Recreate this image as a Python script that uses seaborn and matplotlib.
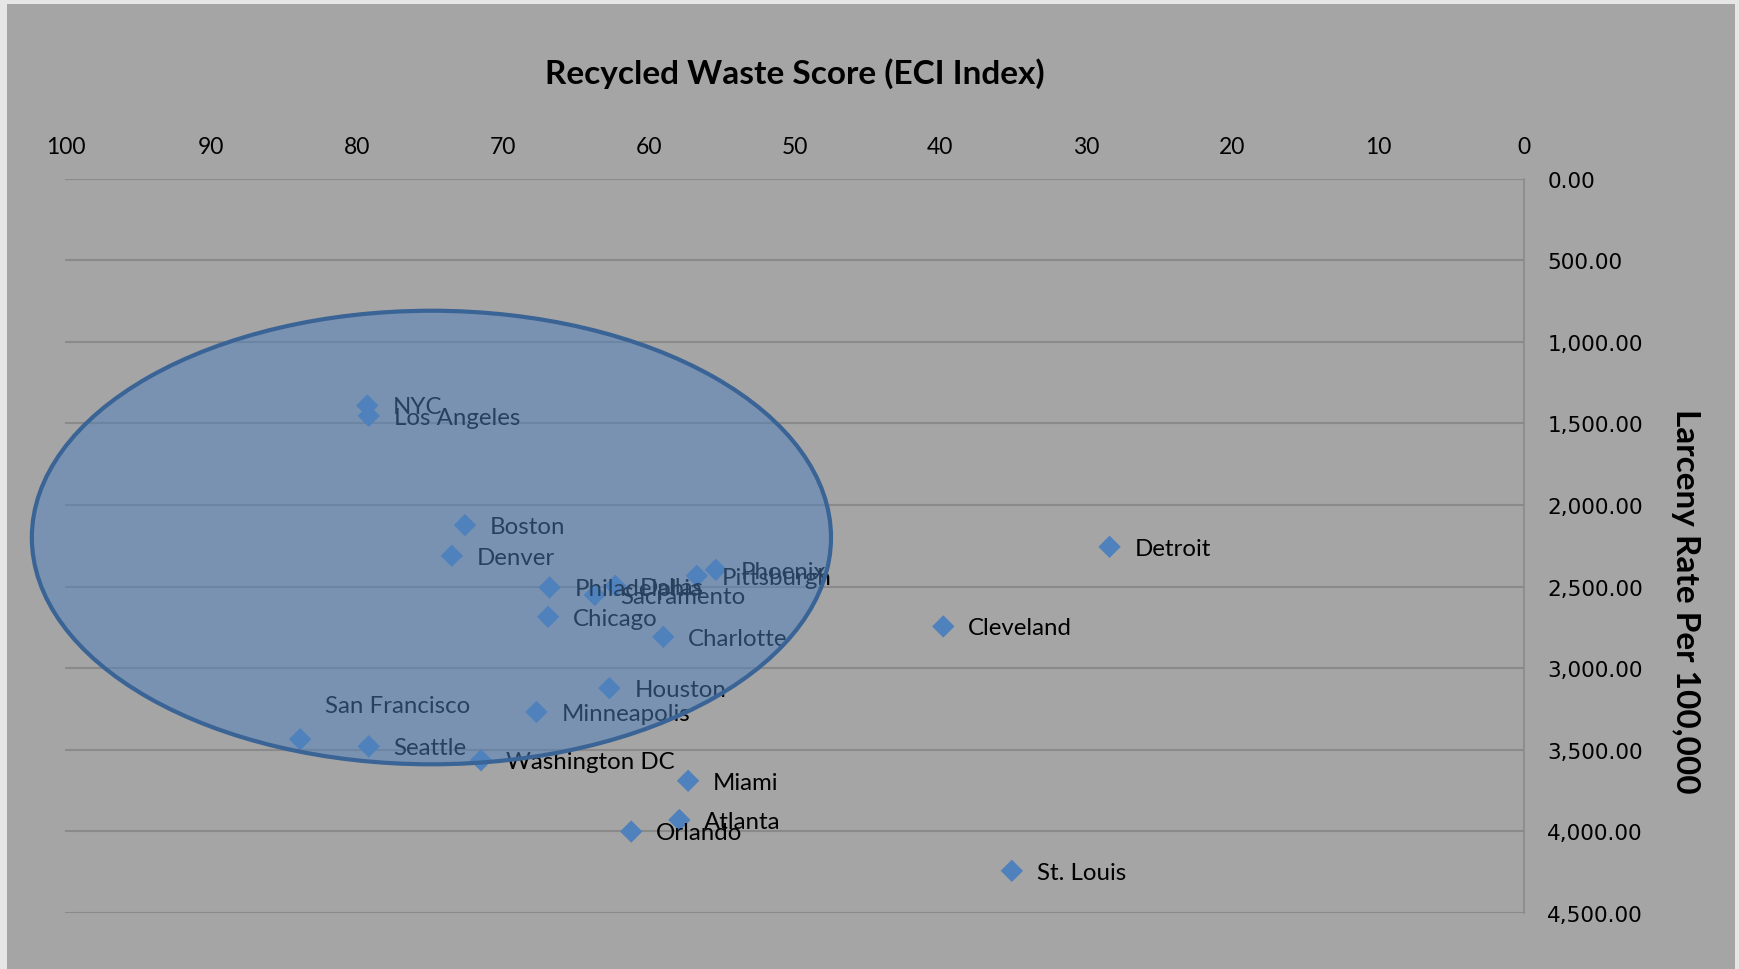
import pandas as pd
import matplotlib
matplotlib.use('Agg')
import matplotlib.pyplot as plt
import seaborn as sns
from matplotlib.patches import Ellipse, Rectangle

# Datos
ciudades = ['NYC', 'Los Angeles', 'Boston', 'Denver', 'Philadelphia', 'Dallas',
            'Sacramento', 'Pittsburgh', 'Phoenix', 'Chicago', 'Charlotte', 'Houston',
            'Minneapolis', 'San Francisco', 'Seattle', 'Washington DC', 'Miami',
            'Atlanta', 'Orlando', 'Detroit', 'Cleveland', 'St. Louis']
reciclaje = [79.3, 79.2, 72.6, 73.5, 66.8, 62.3,
             63.7, 56.7, 55.4, 66.9, 59.0, 62.7,
             67.7, 83.9, 79.2, 71.5, 57.3,
             57.9, 61.2, 28.4, 39.8, 35.1]
hurtos = [1390, 1453, 2123, 2311, 2505, 2495,
          2551, 2434, 2397, 2685, 2808, 3122,
          3268, 3435, 3479, 3564, 3690,
          3930, 4001, 2256, 2744, 4242]

x_ticks = [100, 90, 80, 70, 60, 50, 40, 30, 20, 10, 0]
y_ticks = [0, 500, 1000, 1500, 2000, 2500, 3000, 3500, 4000, 4500]
y_tick_labels = ['0.00', '500.00', '1,000.00', '1,500.00', '2,000.00', '2,500.00',
                 '3,000.00', '3,500.00', '4,000.00', '4,500.00']

# Elipse que agrupa las ciudades (centro, ancho, alto en unidades de datos)
elipse_centro = (74.9, 2199)
elipse_ancho = 54.8
elipse_alto = 2780

df = pd.DataFrame({'ciudad': ciudades, 'reciclaje': reciclaje, 'hurtos': hurtos})

sns.set_theme(style='white')
plt.rcParams['font.family'] = ['Lato', 'DejaVu Sans']

fig = plt.figure(figsize=(17.39, 9.70), dpi=100, facecolor='#e6e6e6')
fig.patches.append(Rectangle((7 / 1739, 0), 1728 / 1739, 1 - 5 / 970,
                             transform=fig.transFigure, facecolor='#a5a5a5',
                             edgecolor='none', zorder=-10))

ax = fig.add_axes([0.0376, 0.0578, 0.8386, 0.7569])
ax.set_facecolor('none')

sns.scatterplot(data=df, x='reciclaje', y='hurtos', marker='D', s=130,
                color='#4f81bd', edgecolor='none', ax=ax, zorder=3)

# Etiquetas de cada punto (San Francisco va arriba)
desplazamientos = {'San Francisco': (18, 24)}
for c, xv, yv in zip(ciudades, reciclaje, hurtos):
    dx, dy = desplazamientos.get(c, (18, -1))
    ax.annotate(c, (xv, yv), xytext=(dx, dy), textcoords='offset points',
                ha='left', va='center', fontsize=17.3, color='black', zorder=4)

ax.add_patch(Ellipse(elipse_centro, elipse_ancho, elipse_alto,
                     facecolor=(0.31, 0.506, 0.741, 0.5), edgecolor='#3a6496',
                     linewidth=3, zorder=5, clip_on=False))

ax.set_xlim(100, 0)
ax.set_ylim(4500, 0)
ax.set_xticks(x_ticks)
ax.set_yticks(y_ticks)
ax.set_yticklabels(y_tick_labels, fontfamily='DejaVu Sans')
ax.xaxis.tick_top()
ax.yaxis.tick_right()
ax.tick_params(axis='x', length=0, pad=16, labelsize=16.5, labelcolor='black')
ax.tick_params(axis='y', length=0, pad=17, labelsize=15.5, labelcolor='black')
ax.grid(axis='y', color='#8a8a8a', linewidth=1.5)
ax.grid(axis='x', visible=False)
for lado in ['top', 'left', 'bottom']:
    ax.spines[lado].set_visible(False)
ax.spines['right'].set_color('#8a8a8a')
ax.spines['right'].set_linewidth(1.2)
ax.set_xlabel('')
ax.set_ylabel('')

fig.text(0.4569, 0.9238, 'Recycled Waste Score (ECI Index)', ha='center', va='center',
         fontsize=24, fontweight='bold', color='black')
fig.text(0.9695, 0.3804, 'Larceny Rate Per 100,000', ha='center', va='center',
         rotation=270, fontsize=24, fontweight='bold', color='black')

fig.savefig('out.png', dpi=100, facecolor=fig.get_facecolor())
